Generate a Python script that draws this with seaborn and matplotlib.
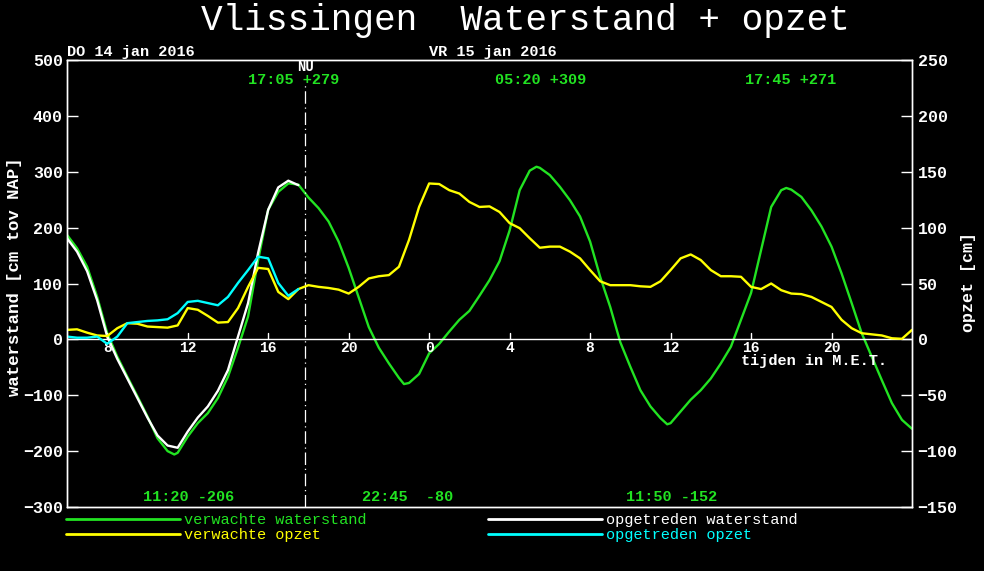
import numpy as np
import pandas as pd
import matplotlib
matplotlib.use("Agg")
import matplotlib.pyplot as plt
import seaborn as sns

# hours counted from 00:00 on do 14 jan 2016
hours = np.arange(6, 48.5, 0.5)

# verwachte waterstand [cm tov NAP], half-hourly 06:00 .. 24:00 next day
verwacht_ws = [187, 163, 130, 76, 11, -31, -67, -102, -138, -177, -200, -203,
               -174, -150, -132, -105, -67, -15, 41, 142, 232, 264, 279, 277,
               254, 235, 211, 175, 128, 75, 22, -15, -43, -69, -78, -62,
               -25, -8, 14, 35, 51, 78, 106, 140, 195, 267, 302, 307,
               294, 273, 249, 220, 175, 112, 58, -5, -49, -91, -120, -141,
               -150, -129, -108, -91, -70, -43, -13, 35, 83, 160, 237, 267,
               268, 255, 231, 202, 166, 118, 65, 11, -31, -73, -114, -144,
               -160]

# extremes from the labels (HW / LW)
hw_times = [17.083, 29.333, 41.75]
hw_values = [279, 309, 271]
lw_times = [11.333, 22.75, 35.833]
lw_values = [-206, -80, -152]

# verwachte opzet [cm]
verwacht_opzet = [8.5, 9, 6, 3.5, 3, 10, 14.5, 14, 11.5, 11, 10.5, 12.5,
                  28, 26.5, 21, 15, 15.5, 28, 47, 64, 63, 42.5, 36, 45,
                  48.5, 47, 46, 44.5, 41, 47, 54.5, 56.5, 57.5, 65, 89, 118.5,
                  139.5, 139, 133.5, 130.5, 123, 118.5, 119, 114, 104, 99.5, 90.5, 82,
                  83, 83, 78.5, 72.5, 62, 52, 48.5, 48.5, 48.5, 47.5, 47, 52,
                  62, 72.5, 76, 71, 62, 56.5, 56.5, 56, 47, 45, 50, 44,
                  41, 40.5, 38, 33.5, 29, 17.5, 10, 5.5, 4.5, 3.5, 1, 0.5,
                  8.5]

# observed, 06:00 .. 17:30
obs_hours = np.arange(6, 18.0, 0.5)
opgetreden_ws = [181, 157, 122, 70, 5, -35, -70, -105, -140, -172, -190, -194,
                 -165, -140, -120, -92, -55, 5, 65, 155, 232, 272, 284, 276]
opgetreden_opzet = [2.5, 1.5, 1.5, 2.5, -4, 2.5, 14.5, 15.5, 16.5, 17, 18, 23.5,
                    33.5, 34.5, 32.5, 30.5, 38, 50.5, 62, 74, 72.5, 50.5, 39, 45]

tick_hours = [8, 12, 16, 20, 24, 28, 32, 36, 40, 44]
tick_labels = ["8", "12", "16", "20", "0", "4", "8", "12", "16", "20"]

hw_labels = ["17:05 +279", "05:20 +309", "17:45 +271"]
hw_label_x = [17.25, 29.56, 41.96]
lw_labels = ["11:20 -206", "22:45  -80", "11:50 -152"]
lw_label_x = [12.03, 22.93, 36.03]
nu_hour = 17.85

GREEN = "#22e322"
YELLOW = "#ffff00"
CYAN = "#00ffff"
WHITE = "#ffffff"

sns.set_style("dark")
plt.rcParams["font.family"] = ["Liberation Mono", "DejaVu Sans Mono"]
plt.rcParams["axes.unicode_minus"] = True

fig = plt.figure(figsize=(9.84, 5.71), dpi=100, facecolor="black")
ax = fig.add_axes([67 / 984, 1 - 507 / 571, 845 / 984, 447 / 571])
ax.set_facecolor("black")
ax.grid(False)

ws = pd.DataFrame({"uur": hours, "verwacht": verwacht_ws})
ext = pd.DataFrame({"uur": hw_times + lw_times, "verwacht": hw_values + lw_values})
ws = pd.concat([ws, ext]).sort_values("uur").reset_index(drop=True)
opz = pd.DataFrame({"uur": hours, "opzet": verwacht_opzet})
obs = pd.DataFrame({"uur": obs_hours, "waterstand": opgetreden_ws, "opzet": opgetreden_opzet})

LW = 1.7
sns.lineplot(data=ws, x="uur", y="verwacht", ax=ax, color=GREEN, lw=LW,
             label="verwachte waterstand", legend=False)
sns.lineplot(data=obs, x="uur", y="waterstand", ax=ax, color=WHITE, lw=LW,
             label="opgetreden waterstand", legend=False)

ax.set_xlim(6, 48)
ax.set_ylim(-300, 500)
ax.set_yticks(range(-300, 501, 100))
ax.set_xticks([])
ax.set_xlabel("")
ax.set_ylabel("")
ax.tick_params(axis="y", direction="in", length=8, width=1, color=WHITE,
               labelcolor=WHITE, labelsize=12, pad=3)
for lab in ax.get_yticklabels():
    lab.set_fontweight("bold")
for sp in ax.spines.values():
    sp.set_color(WHITE)
    sp.set_linewidth(1)

ax2 = ax.twinx()
sns.lineplot(data=opz, x="uur", y="opzet", ax=ax2, color=YELLOW, lw=LW,
             label="verwachte opzet", legend=False)
sns.lineplot(data=obs, x="uur", y="opzet", ax=ax2, color=CYAN, lw=LW,
             label="opgetreden opzet", legend=False)
ax2.set_ylim(-150, 250)
ax2.set_yticks(range(-150, 251, 50))
ax2.set_ylabel("")
ax2.grid(False)
ax2.tick_params(axis="y", direction="in", length=8, width=1, color=WHITE,
                labelcolor=WHITE, labelsize=12, pad=4)
for lab in ax2.get_yticklabels():
    lab.set_fontweight("bold")
for sp in ax2.spines.values():
    sp.set_color(WHITE)
    sp.set_linewidth(1)

# zero line with time ticks
ax.axhline(0, color=WHITE, lw=1)
for h, t in zip(tick_hours, tick_labels):
    ax.plot([h, h], [0, 11], color=WHITE, lw=1)
    ax.text(h, -16, t, ha="center", va="center", color=WHITE,
            fontsize=10.5, fontweight="bold")
ax.text(39.5, -39, "tijden in M.E.T.", ha="left", va="center", color=WHITE,
        fontsize=11, fontweight="bold")

# NU line
ax.axvline(nu_hour, ymin=0, ymax=0.95, color=WHITE, lw=0.9,
           linestyle=(0, (10, 3, 1, 3)))
ax.text(nu_hour, 488, "NU", ha="center", va="center", color=WHITE,
        fontsize=10, fontweight="bold")

for x, t in zip(hw_label_x, hw_labels):
    ax.text(x, 464, t, ha="center", va="center", color=GREEN,
            fontsize=11, fontweight="bold")
for x, t in zip(lw_label_x, lw_labels):
    ax.text(x, -282, t, ha="center", va="center", color=GREEN,
            fontsize=11, fontweight="bold")

ax.text(6, 514, "DO 14 jan 2016", ha="left", va="center", color=WHITE,
        fontsize=11, fontweight="bold", clip_on=False)
ax.text(24, 514, "VR 15 jan 2016", ha="left", va="center", color=WHITE,
        fontsize=11, fontweight="bold", clip_on=False)

fig.text(525 / 984, 1 - 20 / 571, "Vlissingen  Waterstand + opzet",
         ha="center", va="center", color=WHITE, fontsize=26)
fig.text(15 / 984, 1 - 277 / 571, "waterstand [cm tov NAP]", rotation=90,
         ha="center", va="center", color=WHITE, fontsize=12.5, fontweight="bold")
fig.text(968 / 984, 1 - 282 / 571, "opzet [cm]", rotation=90,
         ha="center", va="center", color=WHITE, fontsize=12, fontweight="bold")

h1, l1 = ax.get_legend_handles_labels()
h2, l2 = ax2.get_legend_handles_labels()
handles = [h1[0], h2[0], h1[1], h2[1]]
labels = [l1[0], l2[0], l1[1], l2[1]]
leg = fig.legend(handles, labels, loc="upper left",
                 bbox_to_anchor=(66 / 984, 1 - 513 / 571),
                 ncol=2, frameon=False, fontsize=11, labelcolor="linecolor",
                 handlelength=7.45, handletextpad=0.27, columnspacing=7.95,
                 labelspacing=0.08, borderpad=0, borderaxespad=0)
for line in leg.get_lines():
    line.set_linewidth(2)

fig.savefig("out.png", dpi=100, facecolor="black")
